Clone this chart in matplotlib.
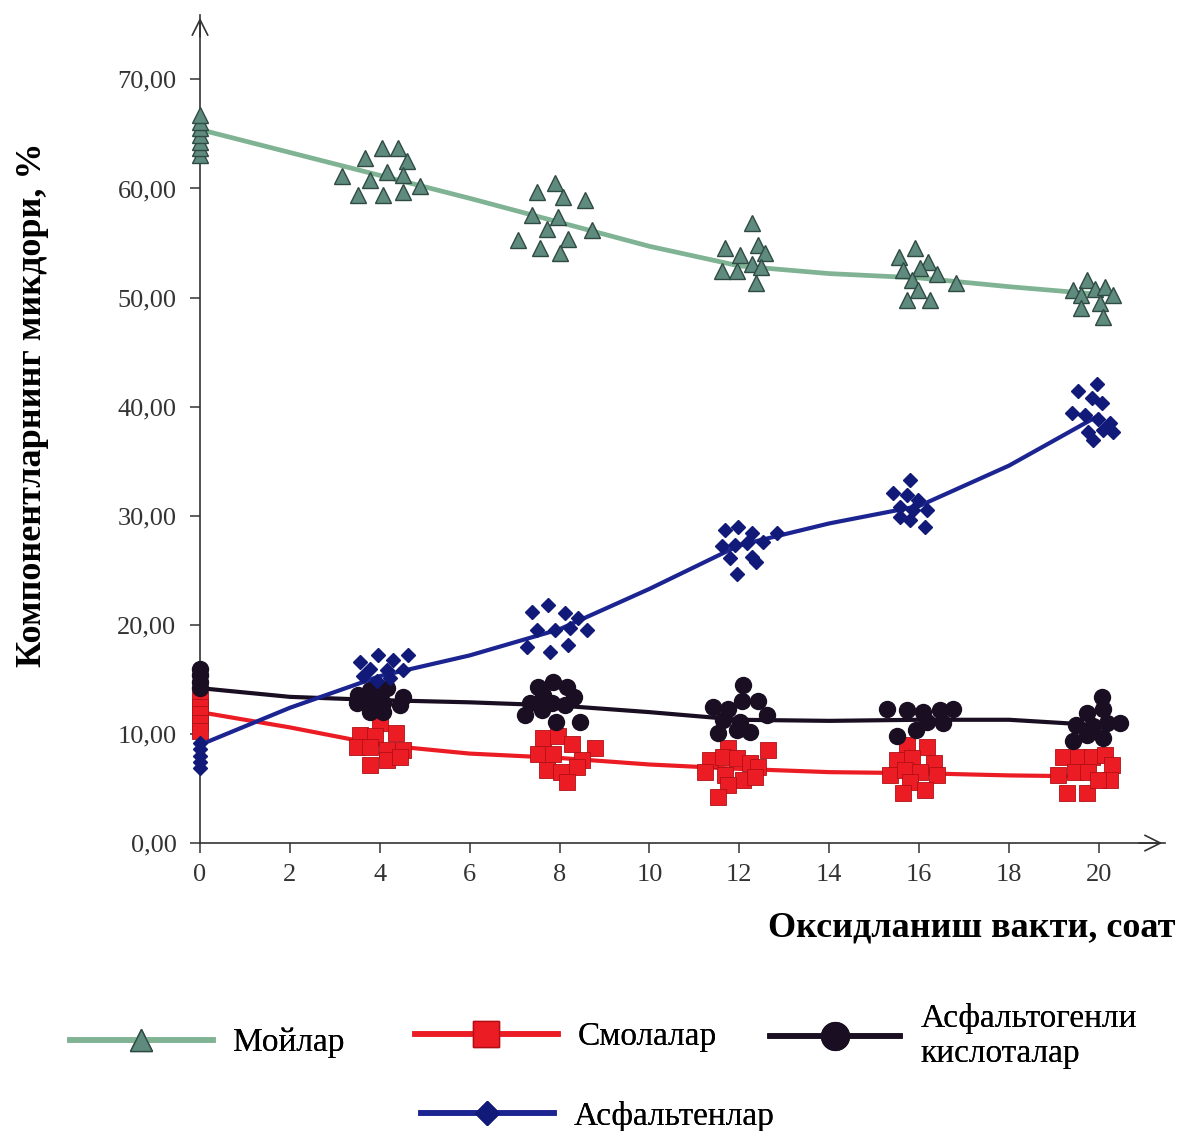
import matplotlib.pyplot as plt
from matplotlib.lines import Line2D

plt.rcParams.update({
    "font.family": ["Liberation Serif", "DejaVu Serif"],
    "font.size": 18,
})

###############################################################################

GREEN_LINE = "#7fb394"
GREEN_FILL = "#5f8b7e"
GREEN_EDGE = "#2f4a42"
RED = "#ec1c24"
RED_EDGE = "#b01015"
BLACK = "#1a0f22"
BLUE = "#1b2490"
BLUE_MARK = "#111a78"
AXIS = "#333333"

###############################################################################

trend_t = [0, 2, 4, 6, 8, 10, 12, 14, 16, 18, 20]

oil_trend = [65.4, 63.3, 61.2, 59.1, 56.9, 54.7, 52.9, 52.2, 51.8, 51.0, 50.3]
resin_trend = [12.0, 10.6, 9.0, 8.2, 7.8, 7.2, 6.8, 6.5, 6.4, 6.2, 6.1]
acid_trend = [14.2, 13.4, 13.1, 12.9, 12.6, 12.0, 11.3, 11.2, 11.3, 11.3, 10.8]
asph_trend = [9.0, 12.4, 15.3, 17.2, 19.6, 23.3, 27.3, 29.3, 30.9, 34.6, 39.2]

# measured points (oils / Мойлар)
oil_x = [0, 0, 0, 0, 0, 0, 0,
         3.15, 3.67, 4.04, 4.41, 4.60, 4.15, 3.78, 4.52, 4.89, 3.52, 4.08, 4.52,
         7.49, 7.90, 8.08, 8.57, 7.38, 7.97, 7.71, 8.71, 7.08, 8.19, 7.56, 8.01,
         12.27, 11.68, 12.01, 12.42, 12.57, 11.61, 11.94, 12.27, 12.49, 12.38,
         15.91, 15.54, 16.20, 15.65, 16.02, 16.39, 16.83, 15.83, 15.98, 15.72, 16.24,
         19.73, 19.43, 19.91, 20.13, 20.32, 19.61, 20.02, 19.61, 20.10]
oil_y = [63.1, 63.7, 64.3, 64.9, 65.5, 66.1, 66.7,
         61.1, 62.8, 63.7, 63.7, 62.5, 61.5, 60.8, 61.2, 60.2, 59.4, 59.4, 59.7,
         59.7, 60.5, 59.2, 58.9, 57.6, 57.4, 56.3, 56.2, 55.3, 55.4, 54.5, 54.1,
         56.8, 54.5, 53.9, 54.8, 54.1, 52.4, 52.4, 53.1, 52.8, 51.3,
         54.5, 53.7, 53.3, 52.5, 52.7, 52.2, 51.3, 51.6, 50.7, 49.8, 49.8,
         51.6, 50.7, 50.8, 51.0, 50.2, 50.2, 49.5, 49.0, 48.2]

# resins / Смолалар
resin_x = [0, 0, 0, 0, 0,
           4.00, 3.56, 3.89, 4.37, 3.49, 3.78, 4.15, 4.52, 3.78, 4.15, 4.45,
           7.64, 7.97, 8.27, 8.79, 7.53, 7.86, 8.49, 7.71, 8.04, 8.38, 8.16,
           11.75, 12.64, 11.35, 11.64, 11.94, 12.24, 12.42, 11.23, 11.68, 12.09, 12.35, 11.75, 11.53,
           15.72, 16.17, 15.50, 15.83, 16.32, 15.35, 15.68, 16.02, 16.39, 15.80, 15.65, 16.13,
           19.21, 19.54, 19.84, 20.13, 20.28, 19.09, 19.47, 19.76, 20.24, 19.28, 19.73, 19.98]
resin_y = [13.2, 12.5, 11.8, 11.0, 10.3,
           11.0, 9.9, 9.8, 10.1, 8.8, 8.8, 8.5, 8.5, 7.2, 7.6, 7.9,
           9.6, 9.8, 9.1, 8.7, 8.2, 8.2, 7.6, 6.7, 6.5, 7.0, 5.6,
           8.7, 8.5, 7.6, 7.9, 7.8, 7.3, 7.0, 6.5, 6.2, 5.8, 6.1, 5.3, 4.2,
           9.0, 8.8, 7.6, 7.8, 7.3, 6.2, 6.7, 6.5, 6.2, 5.6, 4.6, 4.9,
           7.9, 7.9, 7.9, 8.1, 7.2, 6.2, 6.5, 6.5, 5.8, 4.6, 4.6, 5.8]

# asphaltogenic acids / Асфальтогенли кислоталар
acid_x = [0, 0, 0, 0,
          3.52, 3.78, 4.15, 4.52, 3.49, 3.78, 4.08, 4.45, 3.78, 4.08, 3.93,
          7.53, 7.86, 8.16, 7.64, 8.31, 7.34, 7.82, 8.12, 7.23, 7.60, 7.93, 8.45,
          12.09, 11.42, 11.75, 12.05, 12.42, 12.61, 11.64, 12.01, 11.53, 11.94, 12.24,
          15.28, 15.72, 16.09, 16.46, 16.76, 16.17, 16.54, 15.94, 15.50,
          20.06, 20.10, 19.73, 20.47, 19.50, 19.87, 20.17, 19.73, 19.43, 20.10]
acid_y = [16.0, 15.4, 14.8, 14.2,
          13.6, 14.0, 14.2, 13.4, 12.8, 12.7, 12.8, 12.7, 12.0, 12.0, 13.4,
          14.3, 14.8, 14.3, 13.6, 13.4, 12.8, 12.8, 12.7, 11.7, 12.2, 11.1, 11.1,
          14.5, 12.5, 12.3, 13.0, 13.0, 11.7, 11.3, 11.1, 10.1, 10.4, 10.2,
          12.3, 12.2, 12.0, 12.2, 12.3, 11.1, 11.0, 10.4, 9.8,
          13.4, 12.3, 11.9, 11.0, 10.8, 10.7, 11.0, 9.9, 9.4, 9.6]

# asphaltenes / Асфальтенлар
asph_x = [0, 0, 0, 0, 0,
          3.56, 3.97, 4.30, 4.63, 3.78, 4.15, 4.52, 3.63, 3.93, 4.23,
          7.38, 7.75, 8.12, 8.42, 7.49, 7.90, 8.23, 8.60, 7.27, 7.79, 8.19,
          11.68, 11.98, 12.27, 12.83, 11.61, 11.90, 12.16, 12.53, 11.79, 12.27, 12.38, 11.94,
          15.80, 15.42, 15.72, 15.98, 15.57, 15.87, 16.17, 15.80, 16.13, 15.57,
          19.95, 19.54, 19.84, 20.06, 19.39, 19.69, 19.98, 20.24, 19.76, 20.09, 20.32, 19.87]
asph_y = [9.2, 8.6, 8.0, 7.4, 6.9,
          16.6, 17.2, 16.8, 17.2, 16.0, 15.9, 15.9, 15.3, 14.9, 15.1,
          21.2, 21.8, 21.1, 20.6, 19.5, 19.5, 19.7, 19.5, 18.0, 17.5, 18.2,
          28.7, 29.0, 28.4, 28.4, 27.2, 27.3, 27.5, 27.6, 26.1, 26.2, 25.8, 24.7,
          33.3, 32.1, 31.9, 31.4, 30.8, 30.5, 30.5, 29.6, 29.0, 29.9,
          42.1, 41.4, 40.8, 40.3, 39.4, 39.2, 38.9, 38.5, 37.7, 37.9, 37.7, 36.9]

x_ticks = [0, 2, 4, 6, 8, 10, 12, 14, 16, 18, 20]
y_ticks = [0, 10, 20, 30, 40, 50, 60, 70]
y_tick_labels = ["0,00", "10,00", "20,00", "30,00", "40,00", "50,00", "60,00", "70,00"]

###############################################################################

fig = plt.figure(figsize=(11.78, 11.31), dpi=100)
ax = fig.add_axes([0.1698, 0.2546, 0.8192, 0.7321])

ax.plot(trend_t, oil_trend, color=GREEN_LINE, lw=3.4, zorder=2)
ax.plot(trend_t, resin_trend, color=RED, lw=3.0, zorder=2)
ax.plot(trend_t, acid_trend, color=BLACK, lw=3.0, zorder=2)
ax.plot(trend_t, asph_trend, color=BLUE, lw=3.0, zorder=2)

ax.plot(oil_x, oil_y, ls="none", marker="^", ms=12, mfc=GREEN_FILL,
        mec=GREEN_EDGE, mew=1.0, clip_on=False, zorder=3)
ax.plot(resin_x, resin_y, ls="none", marker="s", ms=11, mfc=RED,
        mec=RED_EDGE, mew=0.6, clip_on=False, zorder=3)
ax.plot(acid_x, acid_y, ls="none", marker="o", ms=11.5, mfc=BLACK,
        mec=BLACK, clip_on=False, zorder=3)
ax.plot(asph_x, asph_y, ls="none", marker="D", ms=7.5, mfc=BLUE_MARK,
        mec=BLUE_MARK, clip_on=False, zorder=3)

ax.set_xlim(0, 21.47)
ax.set_ylim(0, 75.9)
ax.set_xticks(x_ticks)
ax.set_yticks(y_ticks)
ax.set_yticklabels(y_tick_labels)
ax.tick_params(direction="out", length=7, width=1.1, colors=AXIS, pad=8,
               labelsize=19)
ax.tick_params(axis="y", pad=10)

for s in ["top", "right"]:
    ax.spines[s].set_visible(False)
for s in ["left", "bottom"]:
    ax.spines[s].set_color(AXIS)
    ax.spines[s].set_linewidth(1.2)

# arrow heads on the axes
ax.annotate("", xy=(1.0, 0), xytext=(0.97, 0), xycoords="axes fraction",
            arrowprops=dict(arrowstyle="->", color=AXIS, lw=1.2,
                            mutation_scale=28), annotation_clip=False)
ax.annotate("", xy=(0, 1.0), xytext=(0, 0.97), xycoords="axes fraction",
            arrowprops=dict(arrowstyle="->", color=AXIS, lw=1.2,
                            mutation_scale=28), annotation_clip=False)

fig.text(0.028, 1 - 405 / 1131, "Компонентларнинг микдори, %",
         rotation=90, ha="center", va="center", fontsize=26, fontweight="bold")
fig.text(0.998, 1 - 928 / 1131, "Оксидланиш вакти, соат",
         ha="right", va="center", fontsize=26, fontweight="bold")

###############################################################################

def add_key(handle, label, x, y, hl=4.3):
    leg = fig.legend([handle], [label], loc="center left",
                     bbox_to_anchor=(x, y), frameon=False, fontsize=24,
                     handlelength=hl, handletextpad=0.6, borderpad=0,
                     borderaxespad=0)
    fig.add_artist(leg)

add_key(Line2D([], [], color=GREEN_LINE, lw=4, marker="^", ms=16,
               mfc=GREEN_FILL, mec=GREEN_EDGE),
        "Мойлар", 0.059, 1 - 1043 / 1131)
add_key(Line2D([], [], color=RED, lw=4, marker="s", ms=19,
               mfc=RED, mec=RED_EDGE),
        "Смолалар", 0.352, 1 - 1037 / 1131)
add_key(Line2D([], [], color=BLACK, lw=4, marker="o", ms=20,
               mfc=BLACK, mec=BLACK),
        "Асфальтогенли\nкислоталар", 0.654, 1 - 1036 / 1131, hl=3.9)
add_key(Line2D([], [], color=BLUE, lw=4, marker="D", ms=12,
               mfc=BLUE_MARK, mec=BLUE_MARK),
        "Асфальтенлар", 0.357, 1 - 1116 / 1131, hl=4.0)

plt.savefig("out.png", dpi=100)
